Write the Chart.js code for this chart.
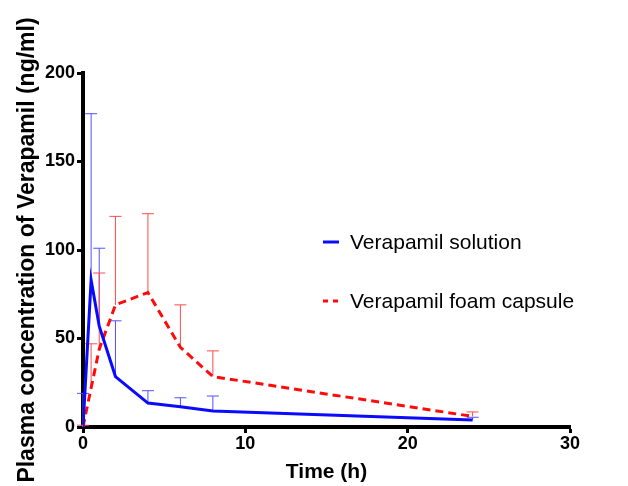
<!DOCTYPE html>
<html>
<head>
<meta charset="utf-8">
<script src="https://cdn.jsdelivr.net/npm/chart.js@4.4.0/dist/chart.umd.min.js"></script>
<style>
  html, body { margin: 0; padding: 0; background: #fff; }
  canvas { display: block; }
</style>
</head>
<body>
<canvas id="pkChart" width="628" height="486"></canvas>
<script>
// sampling times (h)
const times = [0, 0.5, 1, 2, 4, 6, 8, 24];

// Verapamil solution: mean and upper SD
const solutionMean = [0, 83, 57, 28.5, 13.5, 11.5, 9, 4];
const solutionSD = [19, 94, 44, 31.5, 7, 5, 8.5, 1.5];

// Verapamil foam capsule: mean and upper SD
const capsuleMean = [0, 22, 44, 69, 76, 45, 28.5, 6];
const capsuleSD = [1, 25, 43, 50, 44.5, 24, 14.5, 2.5];

const xTicks = [0, 10, 20, 30];
const yTicks = [0, 50, 100, 150, 200];

const toPoints = (vals) => times.map((t, i) => ({ x: t, y: vals[i] }));

// upward-only error bars with caps, drawn through the chart scales
const errorBars = {
    id: "errorBars",
    beforeDatasetsDraw(chart) {
        const { ctx, scales: { x, y } } = chart;
        chart.data.datasets.forEach(ds => {
            ctx.save();
            ctx.strokeStyle = ds.errorColor;
            ctx.lineWidth = 1;
            ds.data.forEach((p, i) => {
                const px = x.getPixelForValue(p.x);
                const py = y.getPixelForValue(p.y);
                const top = y.getPixelForValue(p.y + ds.sd[i]);
                ctx.beginPath();
                ctx.moveTo(px, py);
                ctx.lineTo(px, top);
                ctx.moveTo(px - 6, top);
                ctx.lineTo(px + 6, top);
                ctx.stroke();
            });
            ctx.restore();
        });
    }
};

// legend placed inside the plot, as in the figure
const insideLegend = {
    id: "insideLegend",
    afterDraw(chart) {
        const { ctx } = chart;
        ctx.save();
        ctx.font = "21px 'Liberation Sans', Arial, sans-serif";
        ctx.fillStyle = "#000";
        ctx.textBaseline = "middle";
        chart.data.datasets.forEach((ds, i) => {
            const yPos = 242 + i * 59;
            ctx.strokeStyle = ds.borderColor;
            ctx.lineWidth = 3;
            ctx.setLineDash(ds.borderDash ? [5, 5] : []);
            ctx.beginPath();
            ctx.moveTo(323, yPos);
            ctx.lineTo(339, yPos);
            ctx.stroke();
            ctx.setLineDash([]);
            ctx.fillText(ds.label, 350, yPos + 1);
        });
        ctx.restore();
    }
};

const tickFont = { family: "'Liberation Sans', Arial, sans-serif", size: 18, weight: "bold" };
const titleFont = { family: "'Liberation Sans', Arial, sans-serif", size: 21, weight: "bold", lineHeight: 1 };

new Chart(document.getElementById("pkChart"), {
    type: "line",
    data: {
        datasets: [
            {
                label: "Verapamil solution",
                data: toPoints(solutionMean),
                sd: solutionSD,
                borderColor: "#0a0aff",
                errorColor: "#5252ff",
                borderWidth: 3,
                pointRadius: 0,
                tension: 0,
                fill: false
            },
            {
                label: "Verapamil foam capsule",
                data: toPoints(capsuleMean),
                sd: capsuleSD,
                borderColor: "#ff0a0a",
                errorColor: "#ff4c4c",
                borderWidth: 3,
                borderDash: [8, 5],
                pointRadius: 0,
                tension: 0,
                fill: false
            }
        ]
    },
    options: {
        responsive: false,
        animation: false,
        layout: { padding: { top: 73, right: 58, left: 0, bottom: 0 } },
        plugins: {
            legend: { display: false },
            tooltip: { enabled: false }
        },
        scales: {
            x: {
                type: "linear",
                min: 0,
                max: 30,
                afterBuildTicks: s => { s.ticks = xTicks.map(v => ({ value: v })); },
                afterFit: s => { s.height = 59; },
                border: { display: true, color: "#000", width: 4 },
                grid: { display: true, drawOnChartArea: false, tickLength: 6, tickWidth: 3, tickColor: "#000" },
                ticks: { color: "#000", font: tickFont, padding: 0, maxRotation: 0 },
                title: { display: true, text: "Time (h)", color: "#000", font: titleFont, padding: { bottom: 3 } }
            },
            y: {
                type: "linear",
                min: 0,
                max: 200,
                afterBuildTicks: s => { s.ticks = yTicks.map(v => ({ value: v })); },
                afterFit: s => { s.width = 83; },
                border: { display: true, color: "#000", width: 4 },
                grid: { display: true, drawOnChartArea: false, tickLength: 6, tickWidth: 3, tickColor: "#000" },
                ticks: { color: "#000", font: tickFont, padding: 2 },
                title: {
                    display: true,
                    text: "Plasma concentration of Verapamil (ng/ml)",
                    color: "#000",
                    font: { family: "'Liberation Sans', Arial, sans-serif", size: 23, weight: "bold", lineHeight: 1 },
                    padding: { top: 16 }
                }
            }
        }
    },
    plugins: [errorBars, insideLegend]
});
</script>
</body>
</html>
